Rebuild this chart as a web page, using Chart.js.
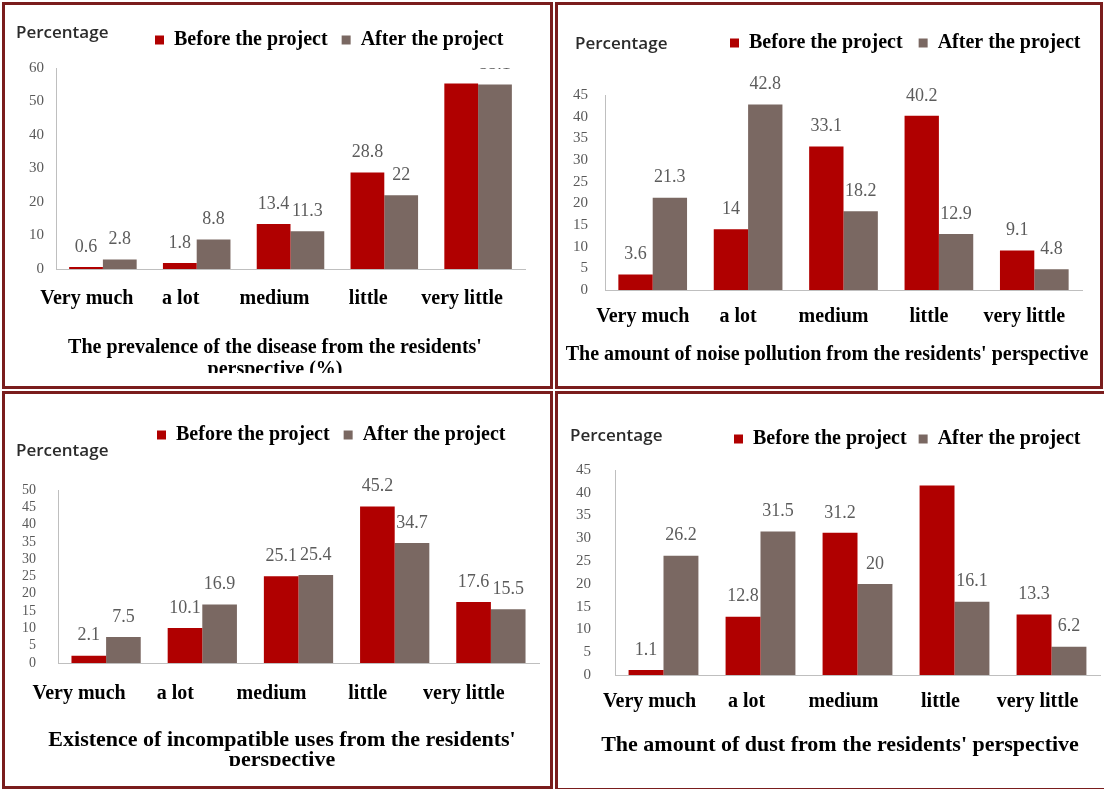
<!DOCTYPE html>
<html>
<head>
<meta charset="utf-8">
<script src="https://cdn.jsdelivr.net/npm/chart.js@4.4.1/dist/chart.umd.min.js"></script>
<style>
  body { margin: 0; background: #fff; width: 1104px; height: 789px; overflow: hidden; position: relative; }
  .panel { position: absolute; box-sizing: border-box; border: 3px solid #7a1d1d; background: #fff; }
  .panel canvas { position: absolute; left: 0; top: 0; }
  .pct { position: absolute; font-family: "Open Sans", sans-serif; font-size: 17px; font-weight: 600; line-height: 20px; color: #2b2b2b; }
</style>
</head>
<body>
<div class="panel" style="left:2px;top:2px;width:551px;height:387px"><canvas id="c1" width="545" height="381"></canvas></div>
<div class="panel" style="left:555px;top:2px;width:548px;height:387px"><canvas id="c2" width="542" height="381"></canvas></div>
<div class="panel" style="left:2px;top:391px;width:551px;height:398px"><canvas id="c3" width="545" height="392"></canvas></div>
<div class="panel" style="left:555px;top:391px;width:552px;height:400px"><canvas id="c4" width="546" height="394"></canvas></div>
<div class="pct" style="left:16px;top:22px">Percentage</div>
<div class="pct" style="left:575px;top:33px">Percentage</div>
<div class="pct" style="left:16px;top:440px">Percentage</div>
<div class="pct" style="left:570px;top:425px">Percentage</div>
<script>
// data
const categories = ['Very much', 'a lot', 'medium', 'little', 'very little'];
const seriesNames = ['Before the project', 'After the project'];

const diseaseBefore = [0.6, 1.8, 13.4, 28.8, 55.4];
const diseaseAfter = [2.8, 8.8, 11.3, 22, 55.1];
const diseaseTicks = [0, 10, 20, 30, 40, 50, 60];
const diseaseTitle = ["The prevalence of the disease from the residents'", 'perspective (%)'];

const noiseBefore = [3.6, 14, 33.1, 40.2, 9.1];
const noiseAfter = [21.3, 42.8, 18.2, 12.9, 4.8];
const noiseTicks = [0, 5, 10, 15, 20, 25, 30, 35, 40, 45];
const noiseTitle = "The amount of noise pollution from the residents' perspective";

const usesBefore = [2.1, 10.1, 25.1, 45.2, 17.6];
const usesAfter = [7.5, 16.9, 25.4, 34.7, 15.5];
const usesTicks = [0, 5, 10, 15, 20, 25, 30, 35, 40, 45, 50];
const usesTitle = ["Existence of incompatible uses from the residents'", 'perspective'];

const dustBefore = [1.1, 12.8, 31.2, 41.6, 13.3];
const dustAfter = [26.2, 31.5, 20, 16.1, 6.2];
const dustTicks = [0, 5, 10, 15, 20, 25, 30, 35, 40, 45];
const dustTitle = "The amount of dust from the residents' perspective";

const RED = '#b00000';
const BROWN = '#7a6862';
const SERIF = '"Liberation Serif", "Times New Roman", serif';

// small layout helper: extra gap under legend, legend/title shift, clipping, value labels
const tweaks = {
  id: 'tweaks',
  afterInit(chart, args, opts) {
    const legend = chart.legend;
    const fit = legend.fit;
    legend.fit = function () {
      fit.call(this);
      this.height += opts.legendGap;
    };
  },
  afterLayout(chart, args, opts) {
    const legend = chart.legend;
    const w = legend.right - legend.left;
    legend.left = opts.legendX - chart.options.plugins.legend.labels.padding;
    legend.right = legend.left + w;
    const t = chart.titleBlock;
    t.left += opts.titleShift;
    t.right += opts.titleShift;
  },
  beforeDraw(chart, args, opts) {
    const ctx = chart.ctx;
    ctx.save();
    ctx.beginPath();
    ctx.rect(0, 0, chart.width, opts.clipBottom);
    ctx.clip();
  },
  afterDraw(chart) {
    chart.ctx.restore();
  },
  afterDatasetsDraw(chart, args, opts) {
    const ctx = chart.ctx;
    const area = chart.chartArea;
    ctx.save();
    ctx.beginPath();
    ctx.rect(0, opts.labelClip ? area.top : 0, chart.width, chart.height);
    ctx.clip();
    ctx.font = '18px ' + SERIF;
    ctx.fillStyle = '#5c5c5c';
    ctx.textAlign = 'center';
    ctx.textBaseline = 'middle';
    chart.data.datasets.forEach((ds, i) => {
      chart.getDatasetMeta(i).data.forEach((bar, j) => {
        ctx.fillText(String(ds.data[j]), bar.x, bar.y - 20);
      });
    });
    ctx.restore();
  }
};

function makeChart(id, before, after, ticks, title, L) {
  new Chart(document.getElementById(id), {
    type: 'bar',
    data: {
      labels: categories,
      datasets: [
        { label: seriesNames[0], data: before, backgroundColor: RED, borderWidth: 0 },
        { label: seriesNames[1], data: after, backgroundColor: BROWN, borderWidth: 0 }
      ]
    },
    options: {
      responsive: false,
      animation: false,
      devicePixelRatio: 1,
      barPercentage: 1,
      categoryPercentage: 0.72,
      layout: { padding: { left: 0, right: L.right, top: L.top, bottom: 0 } },
      plugins: {
        legend: {
          position: 'top',
          align: 'start',
          labels: {
            boxWidth: 9,
            boxHeight: 9,
            padding: L.legendP,
            color: '#000',
            font: { family: SERIF, size: 20, weight: 'bold' }
          }
        },
        title: {
          display: true,
          position: 'bottom',
          text: title,
          color: '#000',
          font: { family: SERIF, size: L.titleSize, weight: 'bold', lineHeight: L.titleLine / L.titleSize },
          padding: { top: 0, bottom: L.titlePb }
        },
        tooltip: { enabled: false },
        tweaks: {
          legendGap: L.legendGap,
          legendX: L.legendX,
          titleShift: L.titleShift,
          clipBottom: L.clipBottom,
          labelClip: L.labelClip
        }
      },
      scales: {
        x: {
          grid: { display: false, drawTicks: false },
          border: { display: true, color: '#bfbfbf' },
          ticks: {
            autoSkip: false,
            maxRotation: 0,
            minRotation: 0,
            padding: L.xPad,
            labelOffset: L.xOff,
            color: '#000',
            font: { family: SERIF, size: 20, weight: 'bold' }
          },
          afterFit(s) {
            s.height = L.xH;
            s.paddingLeft = 0;
            s.paddingRight = 0;
          }
        },
        y: {
          min: ticks[0],
          max: ticks[ticks.length - 1],
          grid: { display: false, drawTicks: false },
          border: { display: true, color: '#bfbfbf' },
          ticks: {
            stepSize: ticks[1] - ticks[0],
            autoSkip: false,
            padding: L.yPad,
            color: '#595959',
            font: { family: SERIF, size: L.yFont }
          },
          afterFit(s) {
            s.width = L.yW;
          }
        }
      }
    },
    plugins: [tweaks]
  });
}

makeChart('c1', diseaseBefore, diseaseAfter, diseaseTicks, diseaseTitle, {
  top: 11, right: 25, legendP: 14, legendGap: 8, legendX: 150,
  yW: 51, yPad: 12, yFont: 15, xH: 68, xPad: 18, xOff: -16,
  titleSize: 20, titleLine: 22, titlePb: 5, titleShift: 10, clipBottom: 368, labelClip: true
});
makeChart('c2', noiseBefore, noiseAfter, noiseTicks, noiseTitle, {
  top: 12, right: 18, legendP: 16, legendGap: 32, legendX: 172,
  yW: 47, yPad: 17, yFont: 15, xH: 54, xPad: 15, xOff: -10,
  titleSize: 20, titleLine: 22, titlePb: 20, titleShift: 7, clipBottom: 381, labelClip: false
});
makeChart('c3', usesBefore, usesAfter, usesTicks, usesTitle, {
  top: 17, right: 11, legendP: 14, legendGap: 35, legendX: 152,
  yW: 53, yPad: 22, yFont: 14, xH: 67, xPad: 19, xOff: -27,
  titleSize: 22, titleLine: 20, titlePb: 16, titleShift: 10, clipBottom: 372, labelClip: false
});
makeChart('c4', dustBefore, dustAfter, dustTicks, dustTitle, {
  top: 23, right: 4, legendP: 12, legendGap: 11, legendX: 176,
  yW: 57, yPad: 24, yFont: 15, xH: 59, xPad: 15, xOff: -14,
  titleSize: 22, titleLine: 22, titlePb: 32, titleShift: 11, clipBottom: 394, labelClip: true
});
</script>
</body>
</html>
